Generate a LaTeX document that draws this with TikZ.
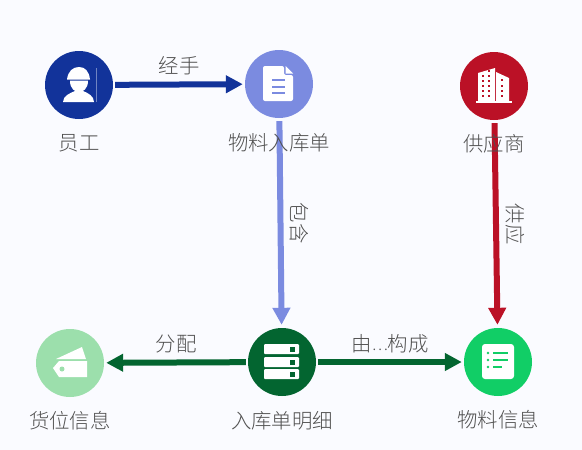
\documentclass[tikz,border=0pt]{standalone}
\usepackage{fontspec}
\setmainfont{Noto Sans CJK SC Light}
\usetikzlibrary{arrows.meta}
\definecolor{bgc}{HTML}{FAFBFF}
\definecolor{navyc}{HTML}{12339A}
\definecolor{periw}{HTML}{7B8BE0}
\definecolor{redc}{HTML}{BB1126}
\definecolor{lgreen}{HTML}{9CDFAC}
\definecolor{dgreen}{HTML}{036530}
\definecolor{mgreen}{HTML}{11CE66}
\definecolor{txt}{HTML}{505050}
\tikzset{
  circ/.style={circle,minimum size=68pt,inner sep=0pt,draw=none},
  conn/.style={line width=6pt,-{Triangle[length=17pt,width=17pt]}},
  lab/.style={font=\fontsize{20.4pt}{22pt}\selectfont,text=txt,inner sep=0pt},
  icon/.style={fill=white,draw=none}
}
\begin{document}
\begin{tikzpicture}[x=1pt,y=-1pt]
\useasboundingbox (0,0) rectangle (582,450);
\fill[bgc] (0,0) rectangle (582,450);
% nodes
\node[circ,fill=navyc] (yg) at (79,85) {};
\node[circ,fill=periw] (rkd) at (279,84) {};
\node[circ,fill=redc] (gys) at (494,86) {};
\node[circ,fill=lgreen] (hw) at (70,363) {};
\node[circ,fill=dgreen] (mx) at (282,362) {};
\node[circ,fill=mgreen] (wl) at (498,362) {};
% connectors
\draw[conn,navyc,shorten <=2pt,shorten >=2pt] (yg) -- (rkd);
\draw[conn,periw,shorten <=3pt,shorten >=3pt] (rkd) -- (mx);
\draw[conn,redc,shorten <=3pt,shorten >=3pt] (gys) -- (wl);
\draw[conn,dgreen,shorten <=2pt,shorten >=2pt] (mx) -- (hw);
\draw[conn,dgreen,shorten <=2pt,shorten >=2pt] (mx) -- (wl);
% worker icon
\fill[icon] (67,79.5) .. controls (68,71) and (73,67) .. (79,67) .. controls (85,67) and (89,71) .. (90,79.5) -- cycle;
\fill[icon] (70,80.5) -- (88,80.5) .. controls (88,89) and (83,92) .. (79,92) .. controls (75,92) and (70,89) .. (70,80.5) -- cycle;
\fill[icon] (63,102) .. controls (63,96) and (70,93) .. (75,91) -- (83,91) .. controls (88,93) and (94,96) .. (94,102) -- cycle;
\draw[white,opacity=.4,line width=.5pt] (96,68) -- (96,102);
% document icon
\fill[icon,rounded corners=2pt] (263,66) -- (284,66) -- (284,75) -- (293,75) -- (293,101) -- (263,101) -- cycle;
\fill[icon] (285.5,66) -- (293,73.5) -- (285.5,73.5) -- cycle;
\foreach \yy in {80,87,93}{\draw[periw,line width=2pt] (272,\yy) -- (285,\yy);}
% building icon
\fill[icon] (478,73) -- (495,68) -- (495,101) -- (478,101) -- cycle;
\fill[icon] (496,72) -- (509,78) -- (509,101) -- (496,101) -- cycle;
\fill[icon] (476,100.5) rectangle (512,103);
\foreach \yy in {76,81,86,91,96}{
  \foreach \xx in {483,489}{\fill[redc] (\xx-1,\yy-1) rectangle (\xx+1,\yy+1);}
}
\foreach \yy in {70.5}{\fill[redc] (488,\yy-1) rectangle (490,\yy+1);}
\foreach \yy in {80,86,91,96}{\fill[redc] (501,\yy-1) rectangle (503,\yy+1);}
% tag icon
\fill[icon] (56,359) -- (82,347) -- (86,359) -- cycle;
\fill[icon] (53,368) -- (59,361) -- (87,361) -- (87,377) -- (59,377) -- cycle;
\fill[lgreen] (62,369) circle (2.5pt);
% server icon
\foreach \yy in {344,357,369}{
  \fill[icon,rounded corners=1pt] (264,\yy) rectangle (299,\yy+10);
  \fill[dgreen] (290,\yy+2.5) rectangle (295,\yy+7.5);
}
% list icon
\fill[icon,rounded corners=3pt] (482,344) rectangle (514,379);
\foreach \yy/\xe in {353/508,360/508,367/502}{
  \fill[mgreen] (488,\yy) circle (1.4pt);
  \draw[mgreen,line width=2pt] (493,\yy) -- (\xe,\yy);
}
% labels
\node[lab] (l1) at (179,66) {经手};
\node[lab] (l2) at (79,143) {员工};
\node[lab] (l3) at (279,143) {物料入库单};
\node[lab] (l4) at (494,144) {供应商};
\node[lab,rotate=-90] (l5) at (299,223) {包含};
\node[lab,rotate=-90] (l6) at (515,224) {供应};
\node[lab] (l7) at (176,344) {分配};
\node[lab] (l8) at (390,344) {由\raisebox{1.5pt}{\fontsize{15.5pt}{16pt}\selectfont ⋯}构成};
\node[lab] (l9) at (70,421) {货位信息};
\node[lab] (l10) at (282,421) {入库单明细};
\node[lab] (l11) at (498,420) {物料信息};
\end{tikzpicture}
\end{document}
